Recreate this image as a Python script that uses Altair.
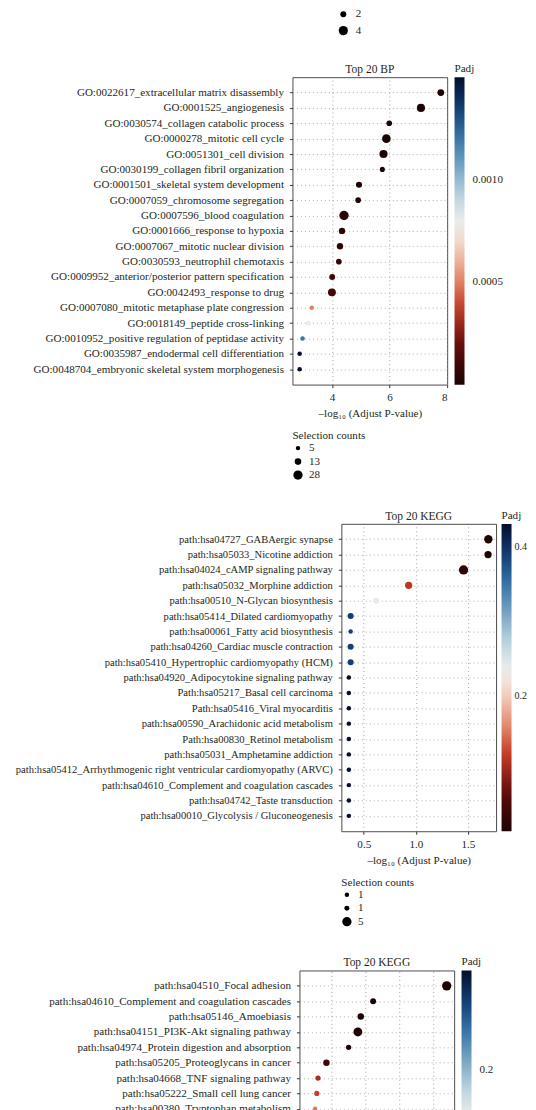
import altair as alt
import pandas as pd

FONT = "Liberation Serif"
TXT = "#231f20"

# ---------------- data ----------------
# tail of the previous panel's "Selection counts" legend (top of the figure)
frag_counts = [2, 4]
frag_legend_values = [2.2, 4]

bp_terms = [
    "GO:0022617_extracellular matrix disassembly",
    "GO:0001525_angiogenesis",
    "GO:0030574_collagen catabolic process",
    "GO:0000278_mitotic cell cycle",
    "GO:0051301_cell division",
    "GO:0030199_collagen fibril organization",
    "GO:0001501_skeletal system development",
    "GO:0007059_chromosome segregation",
    "GO:0007596_blood coagulation",
    "GO:0001666_response to hypoxia",
    "GO:0007067_mitotic nuclear division",
    "GO:0030593_neutrophil chemotaxis",
    "GO:0009952_anterior/posterior pattern specification",
    "GO:0042493_response to drug",
    "GO:0007080_mitotic metaphase plate congression",
    "GO:0018149_peptide cross-linking",
    "GO:0010952_positive regulation of peptidase activity",
    "GO:0035987_endodermal cell differentiation",
    "GO:0048704_embryonic skeletal system morphogenesis",
]
bp_neglog = [7.78, 7.09, 5.99, 5.89, 5.79, 5.75, 4.94, 4.91, 4.42, 4.35,
             4.28, 4.24, 4.01, 4.00, 3.30, 3.19, 2.98, 2.88, 2.88]
bp_padj = [1.7e-8, 8.1e-8, 1.0e-6, 1.3e-6, 1.6e-6, 1.8e-6, 1.1e-5, 1.2e-5, 3.8e-5, 4.5e-5,
           5.2e-5, 5.8e-5, 9.8e-5, 1.0e-4, 5.0e-4, 7.5e-4, 1.2e-3, 1.5e-3, 1.5e-3]
bp_counts = [14, 21, 9, 24, 21, 7, 11, 9, 28, 12, 12, 9, 10, 20, 5, 6, 5, 5, 5]

k1_terms = [
    "path:hsa04727_GABAergic synapse",
    "path:hsa05033_Nicotine addiction",
    "path:hsa04024_cAMP signaling pathway",
    "path:hsa05032_Morphine addiction",
    "path:hsa00510_N-Glycan biosynthesis",
    "path:hsa05414_Dilated cardiomyopathy",
    "path:hsa00061_Fatty acid biosynthesis",
    "path:hsa04260_Cardiac muscle contraction",
    "path:hsa05410_Hypertrophic cardiomyopathy (HCM)",
    "path:hsa04920_Adipocytokine signaling pathway",
    "Path:hsa05217_Basal cell carcinoma",
    "Path:hsa05416_Viral myocarditis",
    "path:hsa00590_Arachidonic acid metabolism",
    "Path:hsa00830_Retinol metabolism",
    "path:hsa05031_Amphetamine addiction",
    "path:hsa05412_Arrhythmogenic right ventricular cardiomyopathy (ARVC)",
    "path:hsa04610_Complement and coagulation cascades",
    "path:hsa04742_Taste transduction",
    "path:hsa00010_Glycolysis / Gluconeogenesis",
]
k1_neglog = [1.696, 1.693, 1.458, 0.931, 0.619, 0.374, 0.374, 0.374, 0.374, 0.357,
             0.357, 0.357, 0.357, 0.357, 0.357, 0.357, 0.357, 0.357, 0.357]
k1_padj = [0.0201, 0.0203, 0.0348, 0.117, 0.240, 0.39, 0.39, 0.39, 0.39, 0.431,
           0.431, 0.431, 0.431, 0.431, 0.431, 0.431, 0.431, 0.431, 0.431]
k1_counts = [4, 3, 5, 3, 2, 2, 1, 2, 2, 1, 1, 1, 1, 1, 1, 1, 1, 1, 1]

k2_terms = [
    "path:hsa04510_Focal adhesion",
    "path:hsa04610_Complement and coagulation cascades",
    "path:hsa05146_Amoebiasis",
    "path:hsa04151_PI3K-Akt signaling pathway",
    "path:hsa04974_Protein digestion and absorption",
    "path:hsa05205_Proteoglycans in cancer",
    "path:hsa04668_TNF signaling pathway",
    "path:hsa05222_Small cell lung cancer",
    "path:hsa00380_Tryptophan metabolism",
]
k2_neglog = [8.8, 4.45, 3.72, 3.55, 3.0, 1.69, 1.19, 1.12, 1.02]
k2_padj = [1.6e-9, 3.5e-5, 1.9e-4, 2.8e-4, 1.0e-3, 0.020, 0.065, 0.076, 0.095]
k2_counts = [10, 3, 4, 9, 2, 4, 2, 2, 1]

# colour ramp (dark red -> white -> navy), as fractions of the Padj domain
ramp_f = [0.0, 0.12, 0.25, 0.35, 0.45, 0.52, 0.62, 0.72, 0.82, 0.91, 1.0]
ramp_c = ["#1c0404", "#5c0a0a", "#c43b26", "#e38f72", "#f3d2c2", "#f0f0ee",
          "#b9d2de", "#6f9fc0", "#2f6b9f", "#10386e", "#030f2a"]

XTITLE = "\u2013log\u2081\u2080 (Adjust P-value)"
LBL = 11.1


def color_scale(lo, hi):
    return alt.Scale(domain=[lo + f * (hi - lo) for f in ramp_f], range=ramp_c,
                     interpolate="rgb")


def indep(c):
    return c.resolve_scale(color="independent", size="independent").resolve_legend(
        color="independent", size="independent")


def spacer(width, with_fragment=False):
    if with_fragment:
        return alt.Chart(pd.DataFrame({"count": frag_counts})).mark_point(
            filled=True, opacity=0, color="black").encode(
            size=alt.Size("count:Q", scale=alt.Scale(domain=[2, 4], range=[30, 85]),
                          legend=alt.Legend(title=None, orient="none", legendX=329.4,
                                            legendY=-68.7, direction="vertical",
                                            values=frag_legend_values, format=".0f",
                                            symbolType="circle", symbolFillColor="black",
                                            symbolStrokeWidth=0, symbolOpacity=1,
                                            labelFont=FONT, labelFontSize=LBL,
                                            labelColor=TXT, labelOffset=7, rowPadding=4.5,
                                            padding=0)),
        ).properties(width=width, height=1, view=alt.ViewBackground(stroke="transparent"))
    return alt.Chart(pd.DataFrame({"v": [0]})).mark_point(opacity=0).encode(
        size=alt.value(1)).properties(
        width=width, height=1, view=alt.ViewBackground(stroke="transparent"))


def panel(terms, neglog, padj, counts, title, xdom, xticks, xfmt, cdom, cvals, cfmt,
          sdom, svals, sfmt, left, height, ylab_size, leg_x=162.4, lab_off=8,
          lab_size=LBL, with_fragment=False):
    df = pd.DataFrame({"term": terms, "x": neglog, "padj": padj, "count": counts})
    ch = alt.Chart(df, title=alt.TitleParams(
        text=title, font=FONT, fontSize=11.5, fontWeight="normal", color=TXT, offset=4,
        dy=16.5, anchor="middle", frame="group")).mark_point(
        filled=True, opacity=1, strokeWidth=0).encode(
        x=alt.X("x:Q", scale=alt.Scale(domain=xdom, nice=False, zero=False),
                axis=alt.Axis(values=xticks, format=xfmt, title=XTITLE, domain=False,
                              grid=True, gridDash=[1, 3], gridColor="#8c8c8c", gridWidth=0.8,
                              tickSize=3, tickColor="#333", labelPadding=4,
                              labelFont=FONT, labelFontSize=LBL, labelColor=TXT,
                              titleFont=FONT, titleFontSize=LBL, titleFontWeight="normal",
                              titleColor=TXT, titlePadding=5)),
        y=alt.Y("term:N", sort=terms, scale=alt.Scale(padding=1),
                axis=alt.Axis(title=None, domain=False, grid=True, gridDash=[1, 3],
                              gridColor="#9a9a9a", gridWidth=0.8, tickSize=3,
                              tickColor="#333", labelPadding=6, labelLimit=500,
                              labelFont=FONT, labelFontSize=ylab_size, labelColor=TXT)),
        color=alt.Color("padj:Q", scale=color_scale(*cdom),
                        legend=alt.Legend(title="Padj", orient="none", legendX=leg_x,
                                          legendY=-14, direction="vertical",
                                          gradientLength=308, gradientThickness=10,
                                          gradientStrokeWidth=0, values=cvals, format=cfmt,
                                          titleFont=FONT, titleFontSize=LBL,
                                          titleFontWeight="normal", titleColor=TXT,
                                          titlePadding=3, labelFont=FONT,
                                          labelFontSize=lab_size, labelColor=TXT,
                                          labelOffset=lab_off, padding=0)),
        size=alt.Size("count:Q", scale=alt.Scale(domain=sdom, range=[20, 87]),
                      legend=alt.Legend(title="Selection counts", orient="none", legendX=0,
                                        legendY=354, direction="vertical", values=svals,
                                        format=sfmt, symbolType="circle",
                                        symbolFillColor="black", symbolStrokeWidth=0,
                                        symbolOpacity=1, titleFont=FONT,
                                        titleFontSize=LBL, titleFontWeight="normal",
                                        titleColor=TXT, titlePadding=1, labelFont=FONT,
                                        labelFontSize=LBL, labelColor=TXT, labelOffset=5.5,
                                        rowPadding=1.5, padding=0)),
    ).properties(width=155, height=height)
    return indep(alt.hconcat(spacer(left, with_fragment), ch, spacing=0, bounds="flush"))


bp = panel(bp_terms, bp_neglog, bp_padj, bp_counts, "Top 20 BP", [2.63, 8.0], [4, 6, 8], "d",
           [0.0, 0.0015], [0.0005, 0.001], ".4f", [5, 28], [5, 13, 28], "d",
           283.7, 308, 11.1, with_fragment=True)
k1 = panel(k1_terms, k1_neglog, k1_padj, k1_counts, "Top 20 KEGG", [0.285, 1.77],
           [0.5, 1.0, 1.5], ".1f", [0.018, 0.431], [0.2, 0.4], ".1f", [1, 5], [1, 1.3, 5],
           ".0f", 333.0, 308, 10.6, leg_x=160.5, lab_off=3, lab_size=10)
k2 = panel(k2_terms, k2_neglog, k2_padj, k2_counts, "Top 20 KEGG", [0.094, 9.24],
           [2, 4, 6, 8], "d", [0.0, 0.296], [0.1, 0.2], ".1f", [1, 10], [1, 5, 10], "d",
           290.6, 154, 11.1)

chart = indep(alt.concat(bp, k1, k2, columns=1, align="none", bounds="full",
                         spacing=27.5)).properties(
    padding={"left": 0, "top": -2, "right": 0, "bottom": 0},
    background="white",
).configure_view(stroke="#4d4d4d", strokeWidth=1)

chart.save("out.html", embed_options={"renderer": "svg", "actions": False})
